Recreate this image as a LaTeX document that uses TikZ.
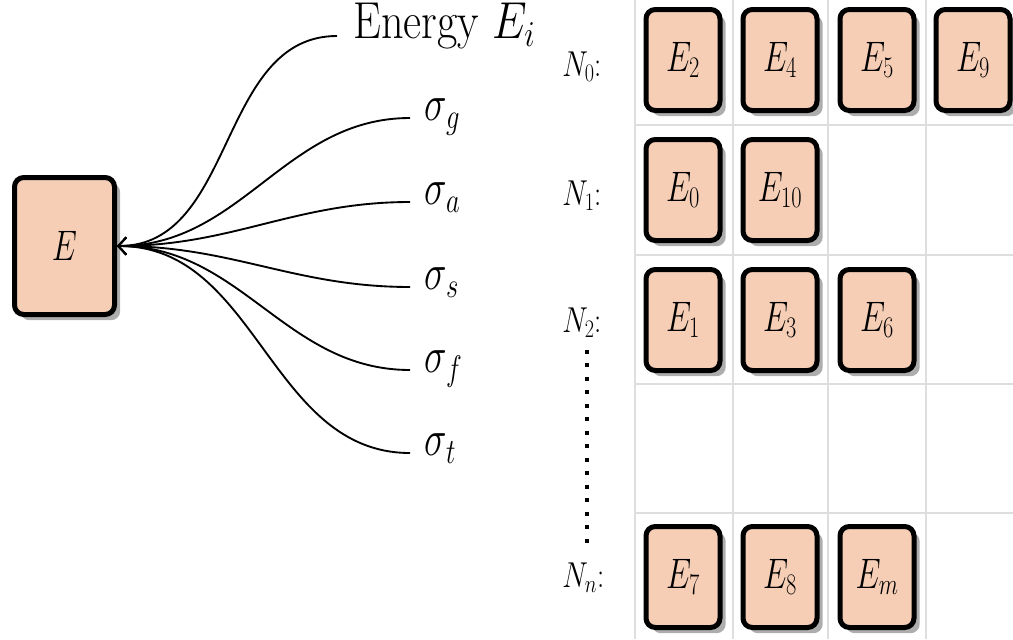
\documentclass[tikz,border=0pt]{standalone}
\usepackage{fix-cm}
\usepackage{graphicx}
\usetikzlibrary{shadows,arrows.meta}
\definecolor{peach}{RGB}{246,206,182}
\definecolor{gridgray}{RGB}{222,222,222}
\newcommand{\sqz}[2][0.75]{\scalebox{#1}[1]{#2}}
\begin{document}
\begin{tikzpicture}[x=0.75pt,y=-0.75pt,
  boxbase/.style={draw=black, line width=3.75pt, fill=peach, rounded corners=7pt, inner sep=0pt,
    font=\fontsize{32}{38}\selectfont,
    drop shadow={shadow xshift=4.3pt,shadow yshift=-4.3pt,fill=black!32,opacity=1}},
  ebox/.style={boxbase, minimum width=55.5pt, minimum height=75.75pt},
  bigbox/.style={boxbase, minimum width=75pt, minimum height=102.75pt},
  rowlbl/.style={anchor=base west, inner sep=0pt, font=\fontsize{27}{32}\selectfont},
  siglbl/.style={anchor=mid west, inner ysep=0pt, inner xsep=11pt, font=\fontsize{38}{44}\selectfont},
  enlbl/.style={anchor=mid west, inner ysep=0pt, inner xsep=12pt, font=\fontsize{39}{46}\selectfont},
  curve/.style={line width=1.4pt, -{Straight Barb[length=6pt,width=13pt]}},
  gridline/.style={draw=gridgray, line width=1.1pt},
  dotline/.style={line width=3pt, dash pattern=on 3pt off 7.1pt, line cap=butt}
]
\useasboundingbox (0,0) rectangle (1013,639);

% grid
\foreach \x in {635,733,828,926} \draw[gridline] (\x,0) -- (\x,639);
\foreach \y in {125,255,384,513} \draw[gridline] (635,\y) -- (1013,\y);

% big box
\node[bigbox] (E) at (64.5,246) {\sqz{$E$}};

% labels on the left
\node[enlbl] (lE) at (337,36) {\sqz[0.85]{Energy $E_i$}};
\node[siglbl] (lg) at (410,118) {\sqz{$\sigma_g$}};
\node[siglbl] (la) at (410,202) {\sqz{$\sigma_a$}};
\node[siglbl] (ls) at (410,287) {\sqz{$\sigma_s$}};
\node[siglbl] (lf) at (410,370) {\sqz{$\sigma_f$}};
\node[siglbl] (lt) at (410,453) {\sqz{$\sigma_t$}};

\foreach \n in {lE,lg,la,ls,lf,lt}
  \draw[curve] (\n.mid west) to[out=180,in=0] (E.east);

% row labels
\node[rowlbl] (N0) at (562,76) {\sqz[0.8]{$N_0$:}};
\node[rowlbl] (N1) at (562,205) {\sqz[0.8]{$N_1$:}};
\node[rowlbl] (N2) at (562,332) {\sqz[0.8]{$N_2$:}};
\node[rowlbl] (Nn) at (562,587) {\sqz[0.8]{$N_n$:}};

\coordinate (dtop) at (587,350);
\coordinate (dbot) at (587,543);
\draw[dotline] (dtop) -- (dbot);

% boxes
\node[ebox] (b02) at (683,60) {\sqz{$E_2$}};
\node[ebox] (b04) at (780,60) {\sqz{$E_4$}};
\node[ebox] (b05) at (877,60) {\sqz{$E_5$}};
\node[ebox] (b09) at (973,60) {\sqz{$E_9$}};

\node[ebox] (b10) at (683,190) {\sqz{$E_0$}};
\node[ebox] (b110) at (780,190) {\sqz{$E_{10}$}};

\node[ebox] (b21) at (683,320) {\sqz{$E_1$}};
\node[ebox] (b23) at (780,320) {\sqz{$E_3$}};
\node[ebox] (b26) at (877,320) {\sqz{$E_6$}};

\node[ebox] (bn7) at (683,577) {\sqz{$E_7$}};
\node[ebox] (bn8) at (780,577) {\sqz{$E_8$}};
\node[ebox] (bnm) at (877,577) {\sqz{$E_m$}};
\end{tikzpicture}
\end{document}
